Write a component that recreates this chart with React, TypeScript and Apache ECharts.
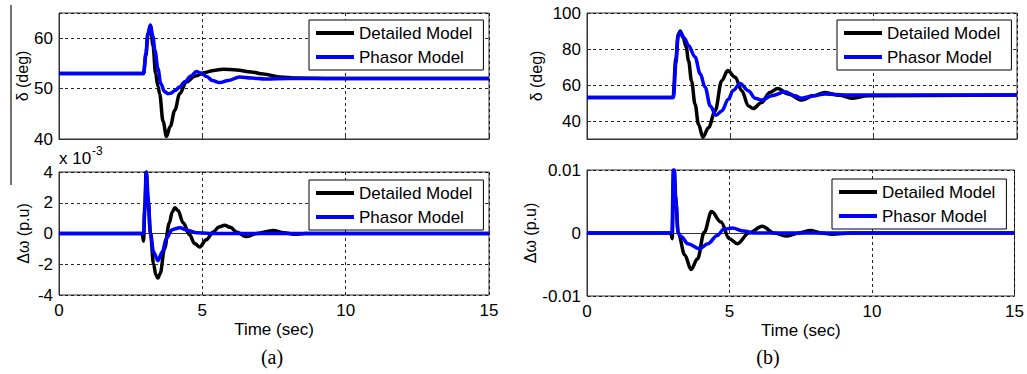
import React, { useEffect, useRef } from "react";
import * as echarts from "echarts";

// Time axis ticks
const timeTicks = [0, 5, 10, 15];

// (a) rotor angle δ (deg)
const aDeltaDetT = [0, 2.95, 3.03, 3.1, 3.19, 3.28, 3.37, 3.45, 3.51, 3.63, 3.75, 3.88, 4.04, 4.21, 4.44, 4.75, 5.1, 5.4, 5.72, 6.2, 6.7, 7.12, 7.7, 8.3, 9.5, 15];
const aDeltaDetV = [53, 53, 56.5, 60.5, 62.5, 58.5, 53, 50.5, 49, 43.5, 40.5, 42.5, 45.7, 49, 51.3, 52.5, 53.2, 53.6, 53.85, 53.7, 53.3, 52.9, 52.3, 52.1, 52, 52];
const aDeltaPhT = [0, 2.95, 3.03, 3.1, 3.19, 3.27, 3.35, 3.45, 3.55, 3.68, 3.8, 3.9, 4.05, 4.2, 4.4, 4.6, 4.79, 4.95, 5.15, 5.35, 5.6, 5.9, 6.3, 6.7, 7.2, 8, 15];
const aDeltaPhV = [53, 53, 57, 61, 62.6, 60.5, 57.5, 54, 51, 49.4, 49, 49.1, 49.6, 50.3, 51.4, 52.5, 53.4, 53.1, 52.4, 51.6, 51.2, 51.6, 52.3, 52.1, 51.9, 52, 52];

// (a) speed deviation Δω (x 10^-3 p.u)
const aOmegaDetT = [0, 2.9, 2.95, 2.99, 3.04, 3.1, 3.19, 3.3, 3.38, 3.45, 3.53, 3.68, 3.85, 3.95, 4.04, 4.15, 4.33, 4.56, 4.73, 4.91, 5.14, 5.38, 5.58, 5.78, 5.98, 6.19, 6.53, 6.9, 7.47, 7.85, 8.2, 8.6, 15];
const aOmegaDetV = [0, 0, -0.5, 1.5, 4, 2.4, 0, -2.0, -2.7, -2.9, -2.6, -1.0, 0.7, 1.4, 1.67, 1.5, 0.7, -0.1, -0.65, -0.87, -0.4, 0.1, 0.42, 0.53, 0.4, 0.1, -0.2, 0, 0.2, 0.05, -0.05, 0, 0];
const aOmegaPhT = [0, 2.95, 3.0, 3.05, 3.12, 3.19, 3.3, 3.45, 3.6, 3.75, 3.95, 4.21, 4.5, 4.8, 5.26, 6, 15];
const aOmegaPhV = [0, 0, 2, 4, 2, 0, -1.2, -1.77, -1.2, -0.3, 0.25, 0.37, 0.2, 0.05, 0, 0, 0];

// (b) rotor angle δ (deg)
const bDeltaDetT = [0, 3.0, 3.1, 3.18, 3.25, 3.35, 3.46, 3.54, 3.65, 3.77, 3.89, 4.04, 4.24, 4.47, 4.7, 4.91, 5.17, 5.4, 5.63, 5.8, 6.09, 6.38, 6.65, 7.02, 7.49, 7.9, 8.3, 8.8, 9.23, 9.8, 15];
const bDeltaDetV = [53, 53, 75, 88, 90, 86.5, 81, 73.6, 62, 49.3, 38.2, 31, 36.3, 45.6, 62.4, 68, 64.3, 56.8, 48.4, 46.9, 50.3, 55.9, 58.1, 55, 51.6, 54, 55.9, 54.3, 52.7, 54, 54.5];
const bDeltaPhT = [0, 3.02, 3.1, 3.18, 3.25, 3.4, 3.54, 3.77, 3.95, 4.12, 4.3, 4.5, 4.7, 4.93, 5.1, 5.34, 5.63, 5.86, 6.1, 6.44, 6.9, 7.25, 7.49, 7.9, 8.3, 9, 15];
const bDeltaPhV = [53, 53, 72, 87, 89.5, 86, 82, 75.5, 66.2, 58.7, 48.4, 43.2, 45.6, 52.1, 57, 60.9, 56.8, 52.7, 51.6, 54, 56.2, 54, 52.7, 54, 55, 54.5, 54.5];

// (b) speed deviation Δω (p.u)
const bOmegaDetT = [0, 2.94, 2.99, 3.04, 3.1, 3.2, 3.43, 3.65, 3.88, 4.11, 4.37, 4.7, 4.99, 5.28, 5.68, 6.15, 6.56, 7.02, 7.45, 7.84, 8.2, 8.6, 9.3, 15];
const bOmegaDetV = [0, 0, -0.0009, 0.01, 0.006, 0, -0.0035, -0.0058, -0.0041, 0.0001, 0.0034, 0.00175, -0.0009, -0.0017, 0, 0.00106, 0, -0.00047, 0, 0.0004, 0, -0.0002, 0, 0];
const bOmegaPhT = [0, 2.98, 3.03, 3.07, 3.12, 3.2, 3.31, 3.54, 3.95, 4.24, 4.57, 4.8, 5.1, 5.5, 5.85, 6.5, 15];
const bOmegaPhV = [0, 0, 0.01, 0.01, 0.005, 0, -0.0006, -0.0017, -0.00248, -0.0017, -0.0004, 0.0006, 0.0008, 0.0003, 0, 0, 0];

// Y-axis ticks
const aDeltaTicks = [40, 50, 60];
const aOmegaTicks = [-4, -2, 0, 2, 4];
const bDeltaTicks = [40, 60, 80, 100];
const bOmegaTicks = [-0.01, 0, 0.01];

const seriesNames = ["Detailed Model", "Phasor Model"];
const seriesColors = ["#000000", "#0000ff"];

const FONT = 'Arial, "Liberation Sans", sans-serif';

const zip = (t: number[], v: number[]) => t.map((x, i) => [x, v[i]]);

export default function App() {
  const ref = useRef<HTMLDivElement>(null);
  useEffect(() => {
    if (!ref.current) return;
    const chart = echarts.init(ref.current, undefined, { renderer: "svg" });

    const grids = [
      { left: 59, top: 13, width: 430, height: 126 },
      { left: 59, top: 172, width: 430, height: 123 },
      { left: 587, top: 13, width: 430, height: 126 },
      { left: 587, top: 170, width: 430, height: 126 },
    ].map((g) => ({ ...g, show: true, borderColor: "#333", borderWidth: 1, backgroundColor: "transparent" }));

    const dashed = { show: true, lineStyle: { color: "#000", type: [3, 3], width: 1, opacity: 0.85 } };

    const xAxes = [0, 1, 2, 3].map((i) => ({
      type: "value",
      gridIndex: i,
      min: timeTicks[0],
      max: timeTicks[timeTicks.length - 1],
      interval: timeTicks[1] - timeTicks[0],
      axisLine: { show: true, lineStyle: { color: "#333" } },
      axisTick: { show: true, inside: true, length: 4, lineStyle: { color: "#333" } },
      axisLabel: { show: i === 1 || i === 3, fontSize: 17, color: "#000", fontFamily: FONT, margin: 7 },
      splitLine: dashed,
      name: i === 1 || i === 3 ? "Time (sec)" : "",
      nameLocation: "middle",
      nameGap: 26,
      nameTextStyle: { fontSize: 17, color: "#000", fontFamily: FONT },
    }));

    const yBase = (i: number) => ({
      type: "value",
      gridIndex: i,
      axisLine: { show: true, lineStyle: { color: "#333" } },
      axisTick: { show: true, inside: true, length: 4, lineStyle: { color: "#333" } },
      axisLabel: { fontSize: 17, color: "#000", fontFamily: FONT, margin: 6 },
      splitLine: dashed,
      nameLocation: "middle",
      nameRotate: 90,
      nameTextStyle: { fontSize: 16, color: "#000", fontFamily: FONT },
    });

    const yAxes = [
      { ...yBase(0), min: aDeltaTicks[0], max: 65, interval: aDeltaTicks[1] - aDeltaTicks[0], name: "δ (deg)", nameGap: 29, axisLabel: { ...yBase(0).axisLabel, showMaxLabel: false } },
      { ...yBase(1), min: aOmegaTicks[0], max: aOmegaTicks[aOmegaTicks.length - 1], interval: aOmegaTicks[1] - aOmegaTicks[0], name: "Δω (p.u)", nameGap: 28 },
      {
        ...yBase(2), min: 30, max: bDeltaTicks[bDeltaTicks.length - 1], name: "δ (deg)", nameGap: 43,
        axisLabel: { ...yBase(2).axisLabel, customValues: bDeltaTicks },
        axisTick: { ...yBase(2).axisTick, customValues: bDeltaTicks },
      },
      { ...yBase(3), min: bOmegaTicks[0], max: bOmegaTicks[bOmegaTicks.length - 1], interval: bOmegaTicks[1] - bOmegaTicks[0], name: "Δω (p.u)", nameGap: 44 },
    ];

    const panels = [
      [zip(aDeltaDetT, aDeltaDetV), zip(aDeltaPhT, aDeltaPhV)],
      [zip(aOmegaDetT, aOmegaDetV), zip(aOmegaPhT, aOmegaPhV)],
      [zip(bDeltaDetT, bDeltaDetV), zip(bDeltaPhT, bDeltaPhV)],
      [zip(bOmegaDetT, bOmegaDetV), zip(bOmegaPhT, bOmegaPhV)],
    ];

    const series: any[] = [];
    panels.forEach((p, i) => {
      p.forEach((data, k) => {
        series.push({
          name: seriesNames[k],
          type: "line",
          xAxisIndex: i,
          yAxisIndex: i,
          data,
          symbol: "none",
          showSymbol: false,
          smooth: 0.35,
          smoothMonotone: "x",
          lineStyle: { color: seriesColors[k], width: 3.5 },
          itemStyle: { color: seriesColors[k] },
          z: 2 + k,
        });
      });
    });

    const legendPos = [
      { left: 309, top: 20 },
      { left: 309, top: 180 },
      { left: 837, top: 20 },
      { left: 832, top: 179 },
    ];
    const legends = legendPos.map((pos) => ({
      ...pos,
      data: seriesNames,
      orient: "vertical",
      icon: "rect",
      itemWidth: 38,
      itemHeight: 4,
      itemGap: 6,
      padding: [4, 11, 4, 7],
      borderColor: "#000",
      borderWidth: 1,
      backgroundColor: "#fff",
      selectedMode: false,
      textStyle: { fontSize: 17, color: "#000", lineHeight: 18, fontFamily: FONT },
    }));

    chart.setOption({
      animation: false,
      backgroundColor: "#fff",
      grid: grids,
      xAxis: xAxes,
      yAxis: yAxes,
      legend: legends,
      series,
      graphic: [
        { type: "line", shape: { x1: 11, y1: 5, x2: 11, y2: 185 }, style: { stroke: "#444", lineWidth: 1.5 } },
        { type: "text", x: 59, y: 150, style: { text: "x 10", fontSize: 17, fill: "#000", fontFamily: FONT } },
        { type: "text", x: 92, y: 145, style: { text: "-3", fontSize: 12, fill: "#000", fontFamily: FONT } },
        { type: "text", x: 272, y: 357, style: { text: "(a)", fontSize: 20, fill: "#000", fontFamily: '"Times New Roman", "Liberation Serif", serif', textAlign: "center", textVerticalAlign: "middle" } },
        { type: "text", x: 768, y: 357, style: { text: "(b)", fontSize: 20, fill: "#000", fontFamily: '"Times New Roman", "Liberation Serif", serif', textAlign: "center", textVerticalAlign: "middle" } },
      ],
    });
    return () => chart.dispose();
  }, []);
  return <div ref={ref} style={{ position: "fixed", left: 0, top: 0, width: 1027, height: 374 }} />;
}
